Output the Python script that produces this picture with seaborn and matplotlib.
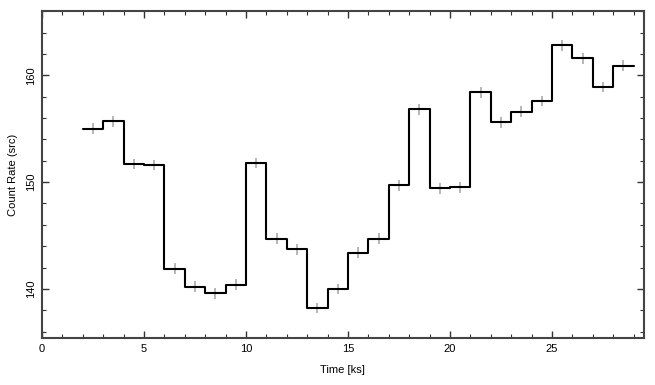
import matplotlib
matplotlib.use("Agg")
import matplotlib.pyplot as plt
from matplotlib.ticker import MultipleLocator
import numpy as np
import seaborn as sns

# light curve: bin centres [ks], count rate and errors
time = [2.5, 3.5, 4.5, 5.5, 6.5, 7.5, 8.5, 9.5, 10.5, 11.5, 12.5, 13.5, 14.5, 15.5,
        16.5, 17.5, 18.5, 19.5, 20.5, 21.5, 22.5, 23.5, 24.5, 25.5, 26.5, 27.5, 28.5]
rate = [155.0, 155.7, 151.7, 151.6, 141.9, 140.2, 139.6, 140.4, 151.8, 144.7, 143.7, 138.2, 140.0, 143.4,
        144.7, 149.7, 156.8, 149.4, 149.5, 158.4, 155.6, 156.6, 157.6, 162.8, 161.6, 158.9, 160.9]
rate_err = [0.5] * len(rate)
bin_half = 0.5

sns.set_style("ticks")
plt.rcParams["font.family"] = ["Liberation Sans", "DejaVu Sans"]
plt.rcParams["text.color"] = "black"
plt.rcParams["axes.labelcolor"] = "black"
plt.rcParams["xtick.labelcolor"] = "black"
plt.rcParams["ytick.labelcolor"] = "black"

fig = plt.figure(figsize=(6.55, 3.85), dpi=100)
ax = fig.add_axes([0.064, 0.122, 0.919, 0.849])

# error crosses
ax.errorbar(time, rate, yerr=rate_err, xerr=bin_half, fmt="none",
            ecolor="#aaaaaa", elinewidth=1.2, capsize=0, zorder=2)

# histogram-style steps over the bin edges
edges = np.append(np.array(time) - bin_half, time[-1] + bin_half)
steps = np.append(rate, rate[-1])
sns.lineplot(x=edges, y=steps, drawstyle="steps-post", color="black",
             linewidth=1.5, ax=ax, zorder=3)

ax.set_xlim(0, 29.5)
ax.set_ylim(135.4, 166)
ax.xaxis.set_major_locator(MultipleLocator(5))
ax.xaxis.set_minor_locator(MultipleLocator(1))
ax.yaxis.set_major_locator(MultipleLocator(10))
ax.yaxis.set_minor_locator(MultipleLocator(2))
ax.tick_params(which="both", direction="in", top=True, right=True,
               color="#333333", labelcolor="black", labelsize=8, pad=4)
ax.tick_params(which="major", length=5, width=1)
ax.tick_params(which="minor", length=3, width=0.8)
for lab in ax.get_yticklabels():
    lab.set_rotation(90)
    lab.set_va("center")
for sp in ax.spines.values():
    sp.set_visible(True)
    sp.set_color("#444444")
    sp.set_linewidth(1.5)

ax.set_xlabel("Time [ks]", fontsize=8, labelpad=8, color="black")
ax.set_ylabel("Count Rate (src)", fontsize=8, labelpad=6, color="black")

fig.savefig("out.png", dpi=100)
